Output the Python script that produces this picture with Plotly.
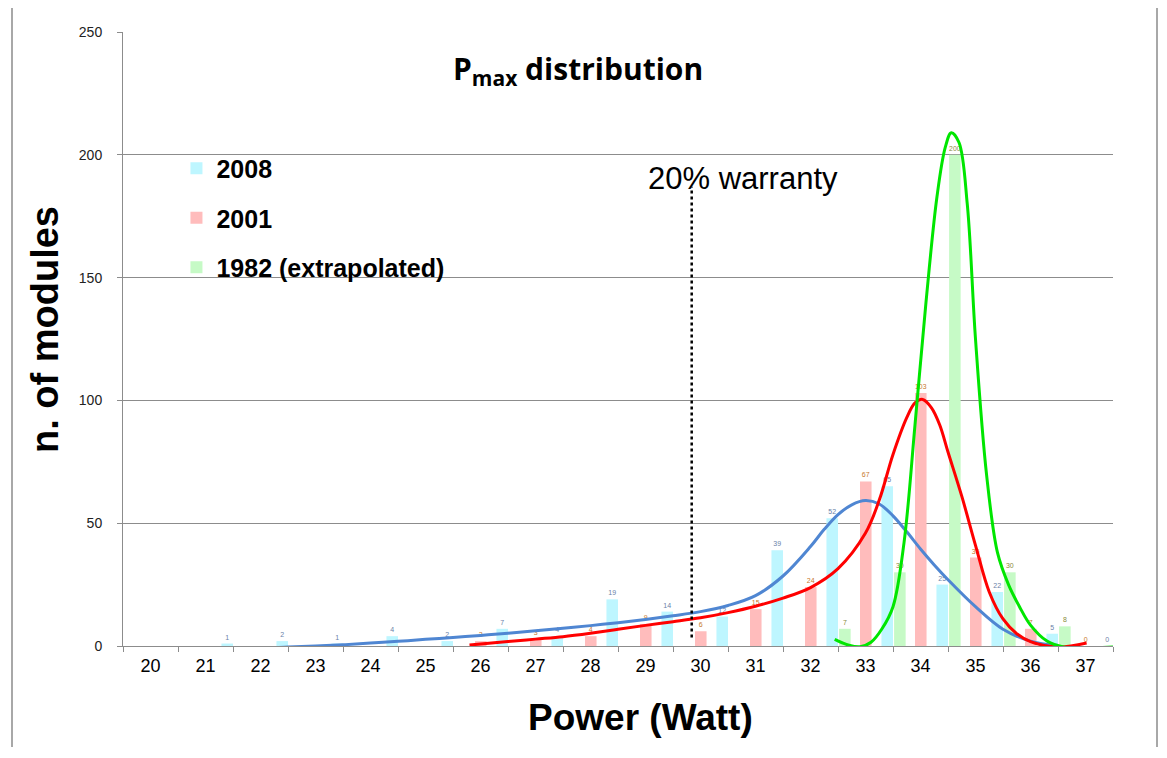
import plotly.graph_objects as go

# ---------------- data ----------------
categories = [20, 21, 22, 23, 24, 25, 26, 27, 28, 29, 30, 31, 32, 33, 34, 35, 36, 37]
tick_labels = [str(c) for c in categories]

n2008 = [None, 1, 2, 1, 4, 2, 7, 4, 19, 14, 12, 39, 52, 65, 25, 22, 5, 0]
n2001 = [None, None, None, None, None, None, 2, 3, 4, 9, 6, 15, 24, 67, 103, 36, 7, 0]
n1982 = [None] * 13 + [7, 30, 200, 30, 8]

fit2008_x = [20.9, 21.5, 22.0, 22.5, 23.0, 23.5, 24.0, 24.5, 25.0, 25.5, 26.0, 26.5, 27.0,
             27.5, 28.0, 28.5, 29.0, 29.5, 30.0, 30.5, 31.0, 31.5, 32.0, 32.25, 32.5, 32.75,
             33.0, 33.25, 33.5, 33.75, 34.0, 34.25, 34.5, 35.0, 35.5, 36.0, 36.5]
fit2008_y = [-0.7, -1.0, -1.0, -0.4, 0.0, 0.5, 1.2, 1.9, 2.7, 3.5, 4.3, 5.2, 6.2,
             7.2, 8.3, 9.5, 10.8, 12.3, 14.0, 16.5, 20.5, 28.5, 40.5, 47.5, 53.5, 57.5,
             59.2, 57.8, 53, 46.5, 39.5, 33, 27, 16, 6.8, 2, 0.2]

fit2001_x = [25.8, 26.5, 27.0, 27.5, 28.0, 28.5, 29.0, 29.5, 30.0, 30.5, 31.0, 31.5, 32.0,
             32.5, 33.0, 33.25, 33.5, 33.75, 33.9, 34.04, 34.2, 34.35, 34.5, 34.75, 35.0,
             35.25, 35.5, 35.75, 36.0, 36.5, 37.02]
fit2001_y = [0.4, 1.8, 2.8, 3.8, 5.2, 6.8, 8.4, 9.9, 11.5, 13.6, 16.2, 19.5, 23.8,
             31.5, 46, 59.4, 78, 93, 99, 100.4, 97, 90, 79, 61, 41,
             22, 11, 5, 1.8, -0.4, 1.2]

fit1982_x = [32.44, 32.7, 32.9, 33.1, 33.3, 33.5, 33.7, 33.9, 34.1, 34.3, 34.45, 34.56,
             34.7, 34.85, 35.0, 35.2, 35.4, 35.6, 35.8, 36.0, 36.3, 36.6, 37.0, 37.5]
fit1982_y = [2.7, 0.3, -0.3, 1.5, 7, 16, 42, 90, 140, 183, 203, 209,
             205, 180, 125, 70, 38, 25, 16, 8.5, 2, -0.4, -0.8, -0.4]

warranty_x = 29.84
warranty_y = [3.5, 187]

# ---------------- styles ----------------
FONT = "Liberation Sans, Arial, sans-serif"
GRID = "#8c8c8c"
bar_w = 0.21
# page body has an 8px margin, so the figure is sized/margined to land at the right pixels
L, T, R, B = 123 - 8, 32 - 8, 46, 104
PW, PH = 990, 614

fig = go.Figure()

series = [
    ("2008", n2008, "rgba(190,246,255,1)", 0.29, "#6a7fa8"),
    ("2001", n2001, "rgba(255,188,188,1)", -0.10, "#c8782c"),
    ("1982 (extrapolated)", n1982, "rgba(198,250,198,1)", -0.48, "#8a8a3a"),
]
for i, (name, vals, col, off, tcol) in enumerate(series):
    fig.add_trace(go.Bar(
        x=categories, y=vals, name=name,
        marker=dict(color=col, line=dict(width=0)),
        width=bar_w, offset=off,
        text=[("" if v is None else str(v)) for v in vals],
        textposition="outside", cliponaxis=False,
        textfont=dict(size=7, color=tcol, family=FONT),
        legendgroup=f"g{i}",
    ))

curves = [
    (fit2008_x, fit2008_y, "#4f86d2"),
    (fit2001_x, fit2001_y, "#ff0000"),
    (fit1982_x, fit1982_y, "#00e600"),
]
for xs, ys, col in curves:
    fig.add_trace(go.Scatter(
        x=xs, y=ys, mode="lines", showlegend=False, hoverinfo="skip",
        line=dict(color=col, width=3, shape="spline", smoothing=1.0),
    ))

# warranty dotted line
fig.add_trace(go.Scatter(
    x=[warranty_x, warranty_x], y=warranty_y, mode="lines", showlegend=False,
    line=dict(color="black", width=2.5, dash="dot"), hoverinfo="skip",
))

bx0, bx1 = (12 - 123) / 990, (1157 - 123) / 990
by0, by1 = (646 - 747) / 614, (646 - 5) / 614

fig.update_layout(
    width=L + PW + R, height=T + PH + B,
    margin=dict(l=L, r=R, t=T, b=B),
    paper_bgcolor="white", plot_bgcolor="white",
    barmode="overlay",
    font=dict(family=FONT, color="black"),
    showlegend=True,
    legend=dict(
        x=0.054, y=0.815, xanchor="left", yanchor="top",
        font=dict(size=25, family=FONT, color="black", weight="bold"),
        bgcolor="rgba(0,0,0,0)", tracegroupgap=14,
        itemwidth=30,
    ),
    xaxis=dict(
        range=[19.5, 37.5], tickmode="array", tickvals=categories, ticktext=tick_labels,
        ticks="", showgrid=False, showline=True, linecolor=GRID, linewidth=1,
        tickfont=dict(size=18, color="black", family=FONT),
        ticklabelstandoff=3,
        minor=dict(tickmode="linear", tick0=19.5, dtick=1, ticks="outside",
                   ticklen=5, tickcolor=GRID, showgrid=False),
        zeroline=False,
    ),
    yaxis=dict(
        range=[0, 250], tickmode="linear", tick0=0, dtick=50,
        showgrid=True, gridcolor=GRID, gridwidth=1,
        showline=True, linecolor=GRID, linewidth=1,
        ticks="outside", ticklen=5, tickcolor=GRID,
        tickfont=dict(size=14, color="#222222", family=FONT),
        ticklabelstandoff=12, zeroline=False,
    ),
    annotations=[
        dict(text="<b>P<sub>max</sub> distribution</b>", xref="paper", yref="paper",
             x=(578 - 123) / 990, y=(646 - 70) / 614, xanchor="center", yanchor="middle",
             showarrow=False, font=dict(size=30, family="Open Sans, sans-serif", color="black")),
        dict(text="20% warranty", xref="paper", yref="paper",
             x=(743 - 123) / 990, y=(646 - 178) / 614, xanchor="center", yanchor="middle",
             showarrow=False, font=dict(size=31, family=FONT, color="black")),
        dict(text="<b>n. of modules</b>", xref="paper", yref="paper",
             x=(45 - 123) / 990, y=(646 - 330) / 614, xanchor="center", yanchor="middle",
             textangle=-90, showarrow=False, font=dict(size=38, family=FONT, color="black")),
        dict(text="<b>Power (Watt)</b>", xref="paper", yref="paper",
             x=(640 - 123) / 990, y=(646 - 717) / 614, xanchor="center", yanchor="middle",
             showarrow=False, font=dict(size=37, family=FONT, color="black")),
    ],
    shapes=[
        dict(type="path", xref="paper", yref="paper",
             path=f"M {bx0},{by0} L {bx0},{by1} L {bx1},{by1} L {bx1},{by0}",
             line=dict(color="#8c8c8c", width=1.5), layer="below"),
    ],
)

fig.write_html("out.html")
